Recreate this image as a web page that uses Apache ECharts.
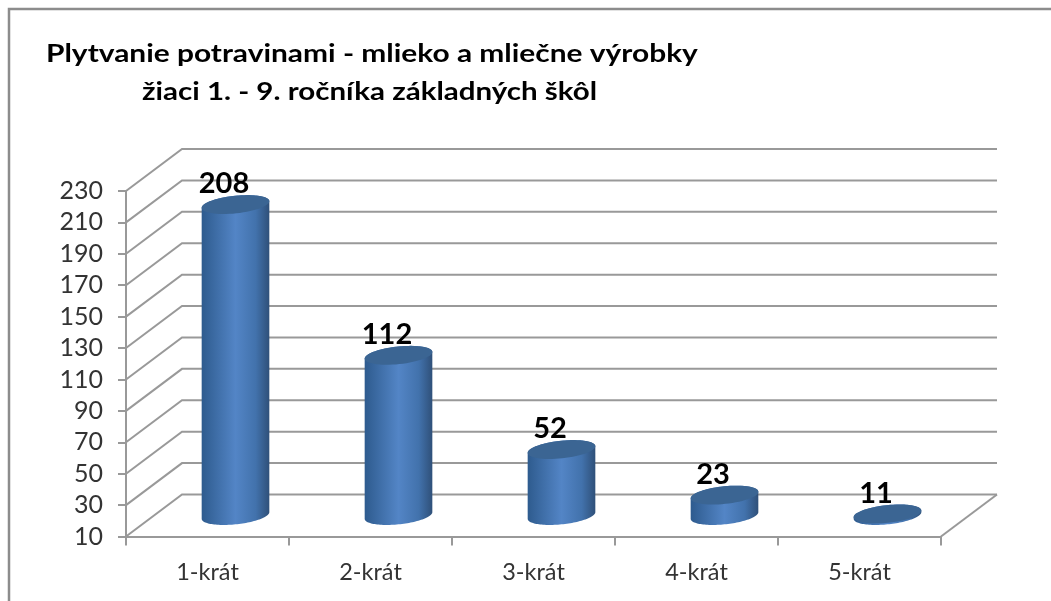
<!DOCTYPE html>
<html><head><meta charset="utf-8">
<style>html,body{margin:0;padding:0;background:#fff}#c{width:1051px;height:601px;filter:blur(0.55px)}</style>
<script src="https://cdn.jsdelivr.net/npm/echarts@6/dist/echarts.min.js"></script>
</head><body><div id="c"></div>
<script>
var categories = ['1-krát','2-krát','3-krát','4-krát','5-krát'];
var values = [208,112,52,23,11];
var yTicks = [10,30,50,70,90,110,130,150,170,190,210,230];
var titleLine1 = 'Plytvanie potravinami - mlieko a mliečne výrobky';
var titleLine2 = 'žiaci 1. - 9. ročníka základných škôl';

var DEPTH_X = 56, DEPTH_Y = 42, RX = 34, RY = 8.8, TILT = 6 * Math.PI / 180;
var GRID = '#999999';
var chart = echarts.init(document.getElementById('c'));

function ell(cx, cy, t) {
  return [cx + RX * Math.cos(t) * Math.cos(TILT) - RY * Math.sin(t) * Math.sin(TILT),
          cy - RX * Math.cos(t) * Math.sin(TILT) - RY * Math.sin(t) * Math.cos(TILT)];
}
function arc(cx, cy, from, to) {
  var p = [], n = 60;
  for (var i = 0; i <= n; i++) p.push(ell(cx, cy, from + (to - from) * i / n));
  return p;
}
var T0 = Math.atan2(-RY * Math.sin(TILT), RX * Math.cos(TILT));

function renderGrid(params, api) {
  var v = api.value(0), p = api.coord([0, v]), cs = params.coordSys;
  var x0 = cs.x, x1 = cs.x + cs.width, y = p[1];
  var pts = [[x0, y], [x0 + DEPTH_X, y - DEPTH_Y], [x1 + DEPTH_X, y - DEPTH_Y]];
  var kids = [{type:'polyline', shape:{points:pts}, style:{stroke:GRID, lineWidth:2, fill:null}}];
  if (params.dataIndex === 0) {
    kids.push({type:'line', shape:{x1:x1, y1:y, x2:x1 + DEPTH_X, y2:y - DEPTH_Y}, style:{stroke:GRID, lineWidth:2}});
  }
  return {type:'group', children:kids};
}
function renderCyl(params, api) {
  var i = api.value(0), v = api.value(1);
  var top = api.coord([i, v]), base = api.coord([i, yTicks[0]]);
  var cx = top[0] + DEPTH_X / 2, ty = top[1] - DEPTH_Y / 2, by = base[1] - DEPTH_Y / 2;
  var body = arc(cx, by, T0 + Math.PI, T0 + 2 * Math.PI).concat(arc(cx, ty, T0, T0 + Math.PI));
  var grad = new echarts.graphic.LinearGradient(0, 0, 1, 0, [
    {offset:0, color:'#2e5b8e'}, {offset:0.5, color:'#5385c6'},
    {offset:0.8, color:'#4272ac'}, {offset:1, color:'#2f5079'}
  ]);
  return {type:'group', children:[
    {type:'polygon', shape:{points:body}, style:{fill:grad}},
    {type:'polygon', shape:{points:arc(cx, ty, 0, 2 * Math.PI)}, style:{fill:'#3b6593'}},
    {type:'text', style:{text:String(v), x:cx - 11.5, y:ty - 20.5, align:'center', verticalAlign:'middle',
      fontFamily:'Lato', fontWeight:'bold', fontSize:29, fill:'#000'}}
  ]};
}
chart.setOption({
  animation:false,
  backgroundColor:'#fff',
  graphic:[
    {type:'polyline', silent:true, shape:{points:[[9,601],[9,9],[1051,9]]}, style:{stroke:'#8c8c8c', lineWidth:2.5, fill:null}},
    {type:'text', silent:true, x:46, y:41, scaleX:1.195, style:{text:titleLine1, fontFamily:'Lato', fontWeight:'bold', fontSize:25, fill:'#000'}},
    {type:'text', silent:true, x:142, y:79, scaleX:1.18, style:{text:titleLine2, fontFamily:'Lato', fontWeight:'bold', fontSize:25, fill:'#000'}}
  ],
  grid:{left:126, top:191, width:815, height:345.5},
  xAxis:{type:'category', data:categories, boundaryGap:true,
    axisLine:{lineStyle:{color:GRID, width:2}},
    axisTick:{show:true, length:9, lineStyle:{color:GRID, width:2}},
    axisLabel:{fontFamily:'Lato', fontSize:23.5, color:'#333', margin:24}},
  yAxis:{type:'value', min:10, max:230, interval:20,
    axisLine:{show:true, lineStyle:{color:GRID, width:2}},
    axisTick:{show:true, length:8, lineStyle:{color:GRID, width:2}},
    splitLine:{show:false},
    axisLabel:{fontFamily:'Lato', fontSize:25, color:'#333', margin:23}},
  series:[
    {type:'custom', coordinateSystem:'cartesian2d', clip:false, z:1, renderItem:renderGrid,
     encode:{y:0}, data:yTicks.map(function(v){return [v];})},
    {type:'custom', coordinateSystem:'cartesian2d', clip:false, z:3, renderItem:renderCyl,
     encode:{x:0, y:1}, data:values.map(function(v,i){return [i,v];})}
  ]
});
</script></body></html>
